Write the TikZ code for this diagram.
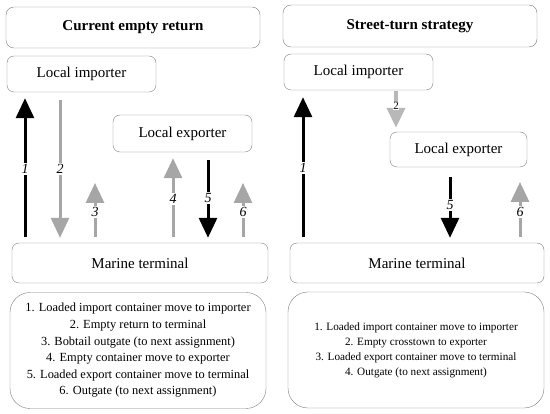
\documentclass[tikz,border=0pt]{standalone}
\usepackage{fontspec}
\setmainfont{Liberation Serif}
\usetikzlibrary{arrows.meta,positioning,calc}
\definecolor{boxline}{HTML}{7F7F7F}
\definecolor{arrowgray}{HTML}{A6A6A6}

\begin{document}
\begin{tikzpicture}[x=1pt,y=-1pt,
        font=\rmfamily\fontsize{15}{18}\selectfont,
        titlebox/.style={draw=boxline, rounded corners=8pt, minimum width=254pt,
                         minimum height=41pt, align=center, font=\rmfamily\fontsize{15}{18}\selectfont\bfseries},
        place/.style={draw=boxline, rounded corners=7pt, minimum height=36pt, align=center,
                      font=\rmfamily\fontsize{15}{18}\selectfont},
        legend/.style={draw=boxline, rounded corners=20pt, minimum width=256pt,
                       minimum height=116pt, align=center},
        blackarrow/.style={-{Triangle[width=18pt,length=20pt]}, line width=3pt, black},
        grayarrow/.style={-{Triangle[width=18pt,length=20pt]}, line width=3pt, arrowgray},
        num/.style={fill=white, inner sep=1pt, font=\rmfamily\fontsize{14}{16}\selectfont\itshape}
    ]
        \useasboundingbox (0,0) rectangle (550,414);

        % current empty return
        \node[titlebox] (lefttitle) at (133,27.5) {Current empty return};
        \node[place, minimum width=149pt] (leftimp) at (81.5,74) {Local importer};
        \node[place, minimum width=139pt, minimum height=37pt] (leftexp) at (182.5,133.5) {Local exporter};
        \node[place, minimum width=256pt, minimum height=40pt] (leftterm) at (140,263) {Marine terminal};
        \node[legend, font=\rmfamily\fontsize{12.4}{16.6}\selectfont] (leftlegend) at (138,350.5)
            {1. Loaded import container move to importer\\
             2. Empty return to terminal\\
             3. Bobtail outgate (to next assignment)\\
             4. Empty container move to exporter\\
             5. Loaded export container move to terminal\\
             6. Outgate (to next assignment)};

        \coordinate (leftfree3) at (95,183);
        \coordinate (leftfree6) at (243,183);

        \draw[blackarrow, shorten <=6pt, shorten >=6pt] (leftterm.north -| 25,0) -- (leftimp.south -| 25,0);
        \draw[grayarrow, shorten <=8pt, shorten >=5pt] (leftimp.south -| 60,0) -- (leftterm.north -| 60,0);
        \draw[grayarrow, shorten <=6pt] (leftterm.north -| leftfree3) -- (leftfree3);
        \draw[grayarrow, shorten <=6pt, shorten >=6pt] (leftterm.north -| 173,0) -- (leftexp.south -| 173,0);
        \draw[blackarrow, shorten <=8pt, shorten >=5pt] (leftexp.south -| 208,0) -- (leftterm.north -| 208,0);
        \draw[grayarrow, shorten <=6pt] (leftterm.north -| leftfree6) -- (leftfree6);

        \node[num] (leftn1) at (25,169) {1};
        \node[num] (leftn2) at (60,169) {2};
        \node[num] (leftn3) at (95,212) {3};
        \node[num] (leftn4) at (173,199) {4};
        \node[num] (leftn5) at (208,198) {5};
        \node[num] (leftn6) at (243,212) {6};

        % street-turn strategy
        \node[titlebox, minimum height=42pt] (righttitle) at (410,26) {Street-turn strategy};
        \node[place, minimum width=149pt] (rightimp) at (358.5,72) {Local importer};
        \node[place, minimum width=137pt, minimum height=35pt] (rightexp) at (458.5,149.5) {Local exporter};
        \node[place, minimum width=254pt, minimum height=40pt] (rightterm) at (417,263) {Marine terminal};
        \node[legend, font=\rmfamily\fontsize{11.2}{15}\selectfont] (rightlegend) at (416,350)
            {1. Loaded import container move to importer\\
             2. Empty crosstown to exporter\\
             3. Loaded export container move to terminal\\
             4. Outgate (to next assignment)};

        \coordinate (rightfree6) at (520,182);

        \draw[blackarrow, shorten <=6pt, shorten >=7pt] (rightterm.north -| 303,0) -- (rightimp.south -| 303,0);
        \draw[-{Triangle[width=18pt,length=20pt]}, line width=4pt, arrowgray!80, shorten <=1pt, shorten >=4pt]
            (rightimp.south -| 396,0) -- (rightexp.north -| 396,0);
        \draw[blackarrow, shorten <=10pt, shorten >=5pt] (rightexp.south -| 450,0) -- (rightterm.north -| 450,0);
        \draw[grayarrow, shorten <=6pt] (rightterm.north -| rightfree6) -- (rightfree6);

        \node[num] (rightn1) at (303,168) {1};
        \node[num, font=\rmfamily\fontsize{11}{13}\selectfont, inner sep=0.5pt] (rightn2) at (396,106) {2};
        \node[num] (rightn5) at (450,205) {5};
        \node[num] (rightn6) at (520,212) {6};
    \end{tikzpicture}
\end{document}
